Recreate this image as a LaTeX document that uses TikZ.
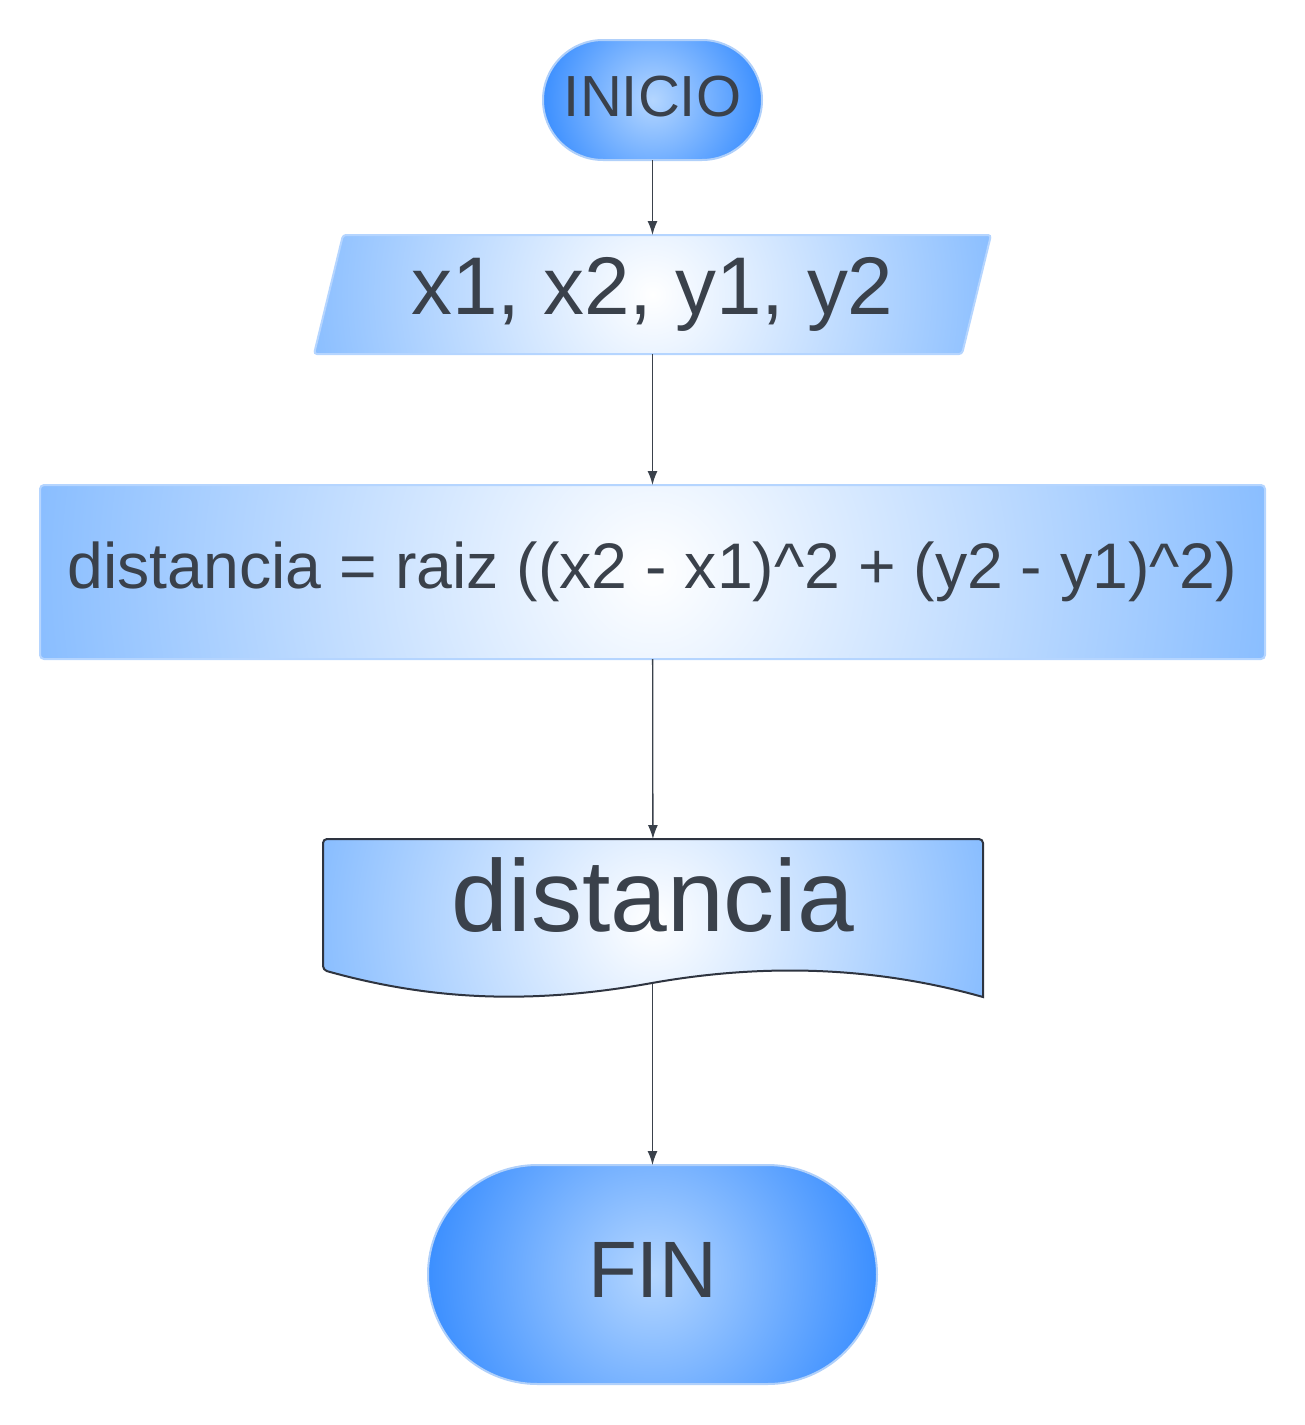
\documentclass[tikz,border=0pt]{standalone}
\usepackage{fontspec}
\setmainfont{Liberation Sans}
\usetikzlibrary{arrows.meta}
\definecolor{txt}{RGB}{58,65,75}
\definecolor{termin}{RGB}{180,214,255}
\definecolor{termout}{RGB}{58,142,255}
\definecolor{termline}{RGB}{176,208,250}
\definecolor{boxout}{RGB}{138,190,255}
\definecolor{boxline}{RGB}{181,213,255}
\definecolor{docline}{RGB}{46,52,64}
\definecolor{arrc}{RGB}{58,65,75}
\begin{document}
\begin{tikzpicture}[x=1pt,y=-1pt,
  txtnode/.style={text=txt, inner sep=0, outer sep=0},
  radfill/.style n args={3}{fill=#3, path picture={
      \shade[inner color=#2, outer color=#3] (path picture bounding box.center) circle[radius=#1];}},
  terminal/.style={txtnode, draw=termline, line width=2, radfill={#1}{termin}{termout}},
  procbox/.style={txtnode, draw=boxline, line width=2, radfill={#1}{white}{boxout}, rounded corners=4},
  arr/.style={draw=arrc, line width=1.3, -{Latex[length=14,width=10]}}
]
\useasboundingbox (0,0) rectangle (1305,1425);

% parallelogram shape
\path[radfill={345}{white}{boxout}, draw=boxline, line width=2, rounded corners=3]
  (343,235) -- (991,235) -- (962,354) -- (314,354) -- cycle;
% document shape
\path[radfill={335}{white}{boxout}, draw=docline, line width=2]
  (983,997) [rounded corners=4] -- (983,839) -- (323,839) -- (323,970) [sharp corners]
  .. controls (430,1000) and (530,1005) .. (652,983)
  .. controls (770,962) and (880,968) .. (983,997) -- cycle;

\node[terminal=112, minimum width=219, minimum height=120, rounded corners=60,
      font=\fontsize{58}{70}\selectfont] (inicio) at (652.5,100) {\raisebox{7pt}{INICIO}};
\node[txtnode, minimum width=648, minimum height=119,
      font=\fontsize{81.8}{98}\selectfont] (par) at (652.5,294.5) {x1, x2, y1, y2};
\node[procbox=615, minimum width=1225, minimum height=174,
      font=\fontsize{64.4}{77}\selectfont] (calc) at (652.5,572) {distancia = raiz ((x2 - x1)\^{}2 + (y2 - y1)\^{}2)};
\node[txtnode, minimum width=660, minimum height=112,
      font=\fontsize{102}{122}\selectfont] (doc) at (653,895) {distancia};
\coordinate (docb) at (652.5,984);
\node[terminal=228, minimum width=449, minimum height=219, rounded corners=109.5,
      font=\fontsize{80}{96}\selectfont] (fin) at (652.5,1274.5) {\raisebox{9pt}{FIN}};

\draw[arr] (inicio) -- (par);
\draw[arr] (par) -- (calc);
\draw[arr] (calc) -- (doc);
\draw[arr] (docb) -- (fin);
\end{tikzpicture}
\end{document}
